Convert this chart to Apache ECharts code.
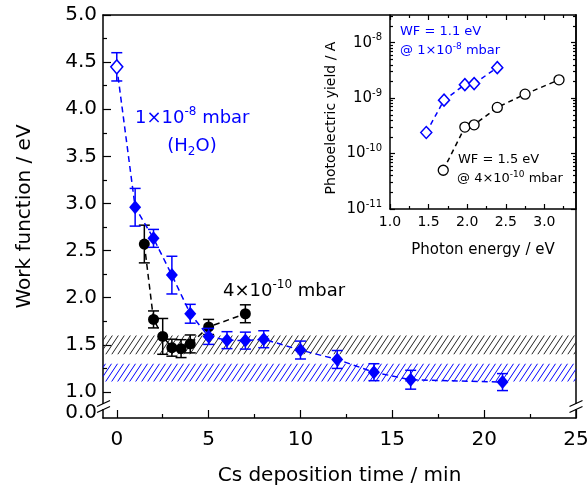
<!DOCTYPE html>
<html>
<head>
<meta charset="utf-8">
<script src="https://cdn.jsdelivr.net/npm/echarts@6/dist/echarts.min.js"></script>
<style>
  html, body { margin: 0; padding: 0; background: #fff; }
  #chart { width: 588px; height: 491px; }
</style>
</head>
<body>
<div id="chart"></div>
<script>
// ---- main plot: work function vs Cs deposition time ----
const uhvTime = [1.5, 2, 2.5, 3, 3.5, 4, 5, 7];
const uhvWF   = [2.57, 1.77, 1.59, 1.47, 1.46, 1.51, 1.69, 1.83];
const uhvErr  = [0.2, 0.09, 0.19, 0.09, 0.095, 0.095, 0.08, 0.095];

const h2oTime = [0, 1, 2, 3, 4, 5, 6, 7, 8, 10, 12, 14, 16, 21];
const h2oWF   = [4.45, 2.96, 2.63, 2.24, 1.83, 1.59, 1.55, 1.545, 1.56, 1.445, 1.345, 1.21, 1.13, 1.105];
const h2oErr  = [0.15, 0.2, 0.095, 0.2, 0.1, 0.085, 0.09, 0.09, 0.09, 0.095, 0.095, 0.09, 0.1, 0.09];
const h2oOpen = [0];   // points drawn with an open symbol

const bandUHV = [1.4, 1.6];
const bandH2O = [1.11, 1.3];

const xTicks  = [0, 5, 10, 15, 20, 25];
const xMinor  = [2.5, 7.5, 12.5, 17.5, 22.5];
const yTicks  = [1.0, 1.5, 2.0, 2.5, 3.0, 3.5, 4.0, 4.5, 5.0];
const yMinor  = [1.25, 1.75, 2.25, 2.75, 3.25, 3.75, 4.25, 4.75];
const yMin = 0.724, zeroLabelPos = 0.78;   // broken axis: bottom stands for 0.0

// ---- inset: photoelectric yield vs photon energy ----
const insH2OEnergy = [1.47, 1.70, 1.97, 2.09, 2.39];
const insH2OYield  = [2.4e-10, 9.2e-10, 1.75e-9, 1.83e-9, 3.55e-9];
const insUHVEnergy = [1.69, 1.97, 2.09, 2.39, 2.75, 3.19];
const insUHVYield  = [5.0e-11, 3.0e-10, 3.3e-10, 6.8e-10, 1.18e-9, 2.14e-9];
const insXTicks = [1.0, 1.5, 2.0, 2.5, 3.0];
const insXMinor = [1.25, 1.75, 2.25, 2.75, 3.25];
const insYTicks = [1e-11, 1e-10, 1e-9, 1e-8];
const insYMax = 3.16e-8;
const insYMinor = [];
insYTicks.forEach(d => { for (let k = 2; k <= 9; k++) if (k * d <= insYMax) insYMinor.push(k * d); });

const FONT = 'DejaVu Sans';
const BLUE = '#0000ff';
const BLACK = '#000';

function hatch(color) {
  const c = document.createElement('canvas');
  c.width = 6; c.height = 9;
  const ctx = c.getContext('2d');
  ctx.strokeStyle = color;
  ctx.lineWidth = 1;
  ctx.beginPath();
  ctx.moveTo(-6, 9); ctx.lineTo(0, 0);
  ctx.moveTo(0, 9);  ctx.lineTo(6, 0);
  ctx.moveTo(6, 9);  ctx.lineTo(12, 0);
  ctx.stroke();
  return { image: c, repeat: 'repeat' };
}

function errorBars(color) {
  return function (params, api) {
    const x = api.value(0);
    const lo = api.coord([x, api.value(1)]);
    const hi = api.coord([x, api.value(2)]);
    const w = 5.5;
    const style = { stroke: color, lineWidth: 1.5, fill: null };
    return {
      type: 'group',
      children: [
        { type: 'line', shape: { x1: lo[0], y1: lo[1], x2: hi[0], y2: hi[1] }, style: style },
        { type: 'line', shape: { x1: lo[0] - w, y1: lo[1], x2: lo[0] + w, y2: lo[1] }, style: style },
        { type: 'line', shape: { x1: hi[0] - w, y1: hi[1], x2: hi[0] + w, y2: hi[1] }, style: style }
      ]
    };
  };
}

const line = { show: true, onZero: false, lineStyle: { color: BLACK, width: 1.5 } };
const noLine = { show: false, onZero: false };
function ticks(values, len) {
  return { show: true, inside: true, length: len, customValues: values, lineStyle: { color: BLACK, width: 1.2 } };
}
const noTicks = { show: false };
const noLabel = { show: false };
const noSplit = { show: false };

function supLabel(v) {
  return '10{s|' + Math.round(Math.log10(v)) + '}';
}

const chart = echarts.init(document.getElementById('chart'));

chart.setOption({
  animation: false,
  backgroundColor: '#fff',
  textStyle: { fontFamily: FONT },
  grid: [
    { left: 103, top: 15, right: 12, bottom: 73, outerBoundsMode: 'none' },
    { left: 390, top: 15, right: 12, bottom: 282, outerBoundsMode: 'none' }
  ],
  xAxis: [
    {
      gridIndex: 0, type: 'value', position: 'bottom', min: -0.75, max: 25,
      axisLine: line, axisTick: ticks(xTicks, 8), splitLine: noSplit,
      axisLabel: { customValues: xTicks, fontSize: 20, color: BLACK, margin: 12, fontFamily: FONT },
      name: 'Cs deposition time / min', nameLocation: 'middle', nameGap: 48,
      nameTextStyle: { fontSize: 20, color: BLACK, fontFamily: FONT }
    },
    { gridIndex: 0, type: 'value', position: 'bottom', min: -0.75, max: 25,
      axisLine: noLine, axisTick: ticks(xMinor, 4), axisLabel: noLabel, splitLine: noSplit },
    { gridIndex: 0, type: 'value', position: 'top', min: -0.75, max: 25,
      axisLine: line, axisTick: noTicks, axisLabel: noLabel, splitLine: noSplit },
    {
      gridIndex: 1, type: 'value', position: 'bottom', min: 1.0, max: 3.41,
      axisLine: line, axisTick: ticks(insXTicks, 5), splitLine: noSplit,
      axisLabel: { customValues: insXTicks, fontSize: 14, color: BLACK, margin: 6, fontFamily: FONT,
                   formatter: v => v.toFixed(1) },
      name: 'Photon energy / eV', nameLocation: 'middle', nameGap: 34,
      nameTextStyle: { fontSize: 15, color: BLACK, fontFamily: FONT }
    },
    { gridIndex: 1, type: 'value', position: 'bottom', min: 1.0, max: 3.41,
      axisLine: noLine, axisTick: ticks(insXMinor, 3), axisLabel: noLabel, splitLine: noSplit },
    { gridIndex: 1, type: 'value', position: 'top', min: 1.0, max: 3.41,
      axisLine: noLine, axisTick: ticks(insXTicks, 5), axisLabel: noLabel, splitLine: noSplit },
    { gridIndex: 1, type: 'value', position: 'top', min: 1.0, max: 3.41,
      axisLine: noLine, axisTick: ticks(insXMinor, 3), axisLabel: noLabel, splitLine: noSplit }
  ],
  yAxis: [
    {
      gridIndex: 0, type: 'value', position: 'left', min: yMin, max: 5,
      axisLine: line, axisTick: ticks(yTicks, 8), splitLine: noSplit,
      axisLabel: { customValues: [zeroLabelPos].concat(yTicks), fontSize: 20, color: BLACK, margin: 6,
                   fontFamily: FONT, formatter: v => (v < 0.9 ? '0.0' : v.toFixed(1)) },
      name: 'Work function / eV', nameLocation: 'middle', nameGap: 68,
      nameTextStyle: { fontSize: 20, color: BLACK, fontFamily: FONT }
    },
    { gridIndex: 0, type: 'value', position: 'left', min: yMin, max: 5,
      axisLine: noLine, axisTick: ticks(yMinor, 4), axisLabel: noLabel, splitLine: noSplit },
    { gridIndex: 0, type: 'value', position: 'right', min: yMin, max: 5,
      axisLine: line, axisTick: noTicks, axisLabel: noLabel, splitLine: noSplit },
    {
      gridIndex: 1, type: 'log', logBase: 10, position: 'left', min: 1e-11, max: insYMax,
      axisLine: line, axisTick: ticks(insYTicks, 5), splitLine: noSplit,
      axisLabel: { customValues: insYTicks, fontSize: 15, color: BLACK, margin: 8, fontFamily: FONT,
                   lineHeight: 20, formatter: supLabel,
                   rich: { s: { fontSize: 10, lineHeight: 10, verticalAlign: 'top', color: BLACK, fontFamily: FONT } } },
      name: 'Photoelectric yield / A', nameLocation: 'middle', nameGap: 52,
      nameTextStyle: { fontSize: 14, color: BLACK, fontFamily: FONT, padding: [0, 12, 0, 0] }
    },
    { gridIndex: 1, type: 'log', logBase: 10, position: 'left', min: 1e-11, max: insYMax,
      axisLine: noLine, axisTick: ticks(insYMinor, 3), axisLabel: noLabel, splitLine: noSplit },
    { gridIndex: 1, type: 'log', logBase: 10, position: 'right', min: 1e-11, max: insYMax,
      axisLine: line, axisTick: ticks(insYTicks, 5), axisLabel: noLabel, splitLine: noSplit },
    { gridIndex: 1, type: 'log', logBase: 10, position: 'right', min: 1e-11, max: insYMax,
      axisLine: noLine, axisTick: ticks(insYMinor, 3), axisLabel: noLabel, splitLine: noSplit }
  ],
  series: [
    {
      // hatched ranges
      type: 'line', xAxisIndex: 0, yAxisIndex: 0, data: [], z: 1,
      markArea: {
        silent: true,
        data: [
          [{ yAxis: bandUHV[0], itemStyle: { color: hatch('#222'), opacity: 1 } }, { yAxis: bandUHV[1] }],
          [{ yAxis: bandH2O[0], itemStyle: { color: hatch(BLUE), opacity: 1 } }, { yAxis: bandH2O[1] }]
        ]
      }
    },
    {
      type: 'custom', xAxisIndex: 0, yAxisIndex: 0, z: 3,
      renderItem: errorBars(BLACK),
      encode: { x: 0, y: [1, 2] },
      data: uhvTime.map((t, i) => [t, uhvWF[i] - uhvErr[i], uhvWF[i] + uhvErr[i]])
    },
    {
      type: 'line', xAxisIndex: 0, yAxisIndex: 0, z: 4,
      data: uhvTime.map((t, i) => [t, uhvWF[i]]),
      symbol: 'circle', symbolSize: 11, showAllSymbol: true,
      itemStyle: { color: BLACK },
      lineStyle: { color: BLACK, width: 1.5, type: [6, 4] }
    },
    {
      type: 'custom', xAxisIndex: 0, yAxisIndex: 0, z: 5,
      renderItem: errorBars(BLUE),
      encode: { x: 0, y: [1, 2] },
      data: h2oTime.map((t, i) => [t, h2oWF[i] - h2oErr[i], h2oWF[i] + h2oErr[i]])
    },
    {
      type: 'line', xAxisIndex: 0, yAxisIndex: 0, z: 6,
      data: h2oTime.map((t, i) => {
        const item = { value: [t, h2oWF[i]] };
        if (h2oOpen.includes(i)) item.itemStyle = { color: '#fff', borderColor: BLUE, borderWidth: 1.5 };
        return item;
      }),
      symbol: 'diamond', symbolSize: [12, 14], showAllSymbol: true,
      itemStyle: { color: BLUE },
      lineStyle: { color: BLUE, width: 1.5, type: [6, 4] }
    },
    {
      type: 'line', xAxisIndex: 3, yAxisIndex: 3, z: 6,
      data: insH2OEnergy.map((e, i) => [e, insH2OYield[i]]),
      symbol: 'diamond', symbolSize: [11, 12], showAllSymbol: true,
      itemStyle: { color: '#fff', borderColor: BLUE, borderWidth: 1.5 },
      lineStyle: { color: BLUE, width: 1.5, type: [5, 4] }
    },
    {
      type: 'line', xAxisIndex: 3, yAxisIndex: 3, z: 6,
      data: insUHVEnergy.map((e, i) => [e, insUHVYield[i]]),
      symbol: 'circle', symbolSize: 10, showAllSymbol: true,
      itemStyle: { color: '#fff', borderColor: BLACK, borderWidth: 1.3 },
      lineStyle: { color: BLACK, width: 1.5, type: [5, 4] }
    }
  ],
  graphic: [
    // axis breaks
    { type: 'rect', z: 100, shape: { x: 101, y: 404, width: 5, height: 5 }, style: { fill: '#fff' } },
    { type: 'line', z: 101, shape: { x1: 97, y1: 406.5, x2: 110, y2: 400.5 }, style: { stroke: BLACK, lineWidth: 1.3 } },
    { type: 'line', z: 101, shape: { x1: 97, y1: 412.5, x2: 110, y2: 406.5 }, style: { stroke: BLACK, lineWidth: 1.3 } },
    { type: 'rect', z: 100, shape: { x: 573.5, y: 404, width: 5, height: 5 }, style: { fill: '#fff' } },
    { type: 'line', z: 101, shape: { x1: 569.5, y1: 406.5, x2: 582.5, y2: 400.5 }, style: { stroke: BLACK, lineWidth: 1.3 } },
    { type: 'line', z: 101, shape: { x1: 569.5, y1: 412.5, x2: 582.5, y2: 406.5 }, style: { stroke: BLACK, lineWidth: 1.3 } },
    // annotations
    {
      type: 'text', z: 110,
      style: {
        x: 135, y: 118, align: 'left', verticalAlign: 'middle',
        text: '{a|1×10}{s|-8}{a| mbar}',
        rich: {
          a: { fontSize: 18, lineHeight: 24, fill: BLUE, fontFamily: FONT },
          s: { fontSize: 12, lineHeight: 12, verticalAlign: 'top', fill: BLUE, fontFamily: FONT }
        }
      }
    },
    {
      type: 'text', z: 110,
      style: {
        x: 192, y: 146, align: 'center', verticalAlign: 'middle',
        text: '{a|(H}{b|2}{a|O)}',
        rich: {
          a: { fontSize: 18, lineHeight: 24, fill: BLUE, fontFamily: FONT },
          b: { fontSize: 12, lineHeight: 12, verticalAlign: 'bottom', fill: BLUE, fontFamily: FONT }
        }
      }
    },
    {
      type: 'text', z: 110,
      style: {
        x: 223, y: 291, align: 'left', verticalAlign: 'middle',
        text: '{a|4×10}{s|-10}{a| mbar}',
        rich: {
          a: { fontSize: 18, lineHeight: 24, fill: BLACK, fontFamily: FONT },
          s: { fontSize: 12, lineHeight: 12, verticalAlign: 'top', fill: BLACK, fontFamily: FONT }
        }
      }
    },
    {
      type: 'text', z: 110,
      style: { x: 400, y: 32, align: 'left', verticalAlign: 'middle', text: 'WF = 1.1 eV',
               fill: BLUE, fontSize: 13, fontFamily: FONT }
    },
    {
      type: 'text', z: 110,
      style: {
        x: 400, y: 51, align: 'left', verticalAlign: 'middle',
        text: '{a|@ 1×10}{s|-8}{a| mbar}',
        rich: {
          a: { fontSize: 13, lineHeight: 18, fill: BLUE, fontFamily: FONT },
          s: { fontSize: 9, lineHeight: 9, verticalAlign: 'top', fill: BLUE, fontFamily: FONT }
        }
      }
    },
    {
      type: 'text', z: 110,
      style: { x: 458, y: 160, align: 'left', verticalAlign: 'middle', text: 'WF = 1.5 eV',
               fill: BLACK, fontSize: 13, fontFamily: FONT }
    },
    {
      type: 'text', z: 110,
      style: {
        x: 457, y: 179, align: 'left', verticalAlign: 'middle',
        text: '{a|@ 4×10}{s|-10}{a| mbar}',
        rich: {
          a: { fontSize: 13, lineHeight: 18, fill: BLACK, fontFamily: FONT },
          s: { fontSize: 9, lineHeight: 9, verticalAlign: 'top', fill: BLACK, fontFamily: FONT }
        }
      }
    }
  ]
});
</script>
</body>
</html>
